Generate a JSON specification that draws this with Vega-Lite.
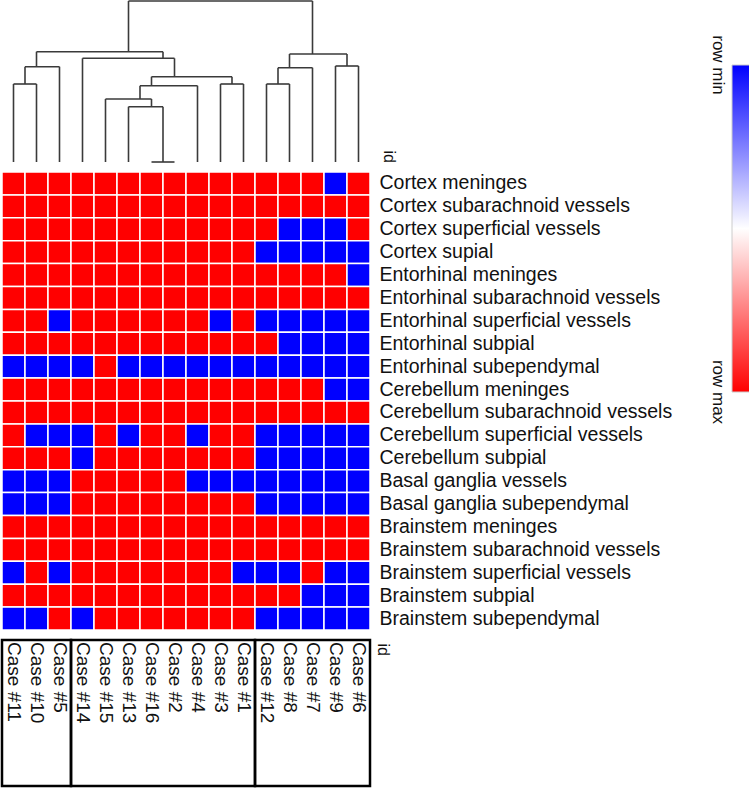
{
  "$schema": "https://vega.github.io/schema/vega-lite/v6.json",
  "padding": 0,
  "spacing": 10,
  "bounds": "flush",
  "config": {"view": {"stroke": null}, "font": "Liberation Sans"},
  "datasets": {
    "dendro": [
      {"x": 5.5, "x2": 13.5, "y": 161, "y2": 161},
      {"x": 5.5, "x2": 5.5, "y": 161, "y2": 110.3},
      {"x": 13.5, "x2": 13.5, "y": 161, "y2": 108},
      {"x": 1.5, "x2": 7.0, "y": 110.3, "y2": 110.3},
      {"x": 1.5, "x2": 1.5, "y": 110.3, "y2": 95.3},
      {"x": 7.0, "x2": 7.0, "y": 110.3, "y2": 103.7},
      {"x": 1.0, "x2": 2.5, "y": 95.3, "y2": 95.3},
      {"x": 1.0, "x2": 1.0, "y": 95.3, "y2": 78},
      {"x": 2.5, "x2": 2.5, "y": 95.3, "y2": 0},
      {"x": 0.5, "x2": 1.5, "y": 78, "y2": 78},
      {"x": 0.5, "x2": 0.5, "y": 78, "y2": 0},
      {"x": 1.5, "x2": 1.5, "y": 78, "y2": 0},
      {"x": 3.5, "x2": 7.5, "y": 103.7, "y2": 103.7},
      {"x": 3.5, "x2": 3.5, "y": 103.7, "y2": 0},
      {"x": 7.5, "x2": 7.5, "y": 103.7, "y2": 85.3},
      {"x": 6.5, "x2": 10.0, "y": 85.3, "y2": 85.3},
      {"x": 6.5, "x2": 6.5, "y": 85.3, "y2": 76.3},
      {"x": 10.0, "x2": 10.0, "y": 85.3, "y2": 78},
      {"x": 9.5, "x2": 10.5, "y": 78, "y2": 78},
      {"x": 9.5, "x2": 9.5, "y": 78, "y2": 0},
      {"x": 10.5, "x2": 10.5, "y": 78, "y2": 0},
      {"x": 6.0, "x2": 8.5, "y": 76.3, "y2": 76.3},
      {"x": 6.0, "x2": 6.0, "y": 76.3, "y2": 63},
      {"x": 8.5, "x2": 8.5, "y": 76.3, "y2": 0},
      {"x": 4.5, "x2": 6.5, "y": 63, "y2": 63},
      {"x": 4.5, "x2": 4.5, "y": 63, "y2": 0},
      {"x": 6.5, "x2": 6.5, "y": 63, "y2": 55.3},
      {"x": 5.5, "x2": 7.0, "y": 55.3, "y2": 55.3},
      {"x": 5.5, "x2": 5.5, "y": 55.3, "y2": 0},
      {"x": 7.0, "x2": 7.0, "y": 55.3, "y2": 0},
      {"x": 6.5, "x2": 7.5, "y": 0, "y2": 0},
      {"x": 12.5, "x2": 15.0, "y": 108, "y2": 108},
      {"x": 12.5, "x2": 12.5, "y": 108, "y2": 94.3},
      {"x": 15.0, "x2": 15.0, "y": 108, "y2": 96},
      {"x": 12.0, "x2": 13.5, "y": 94.3, "y2": 94.3},
      {"x": 12.0, "x2": 12.0, "y": 94.3, "y2": 78},
      {"x": 13.5, "x2": 13.5, "y": 94.3, "y2": 0},
      {"x": 11.5, "x2": 12.5, "y": 78, "y2": 78},
      {"x": 11.5, "x2": 11.5, "y": 78, "y2": 0},
      {"x": 12.5, "x2": 12.5, "y": 78, "y2": 0},
      {"x": 14.5, "x2": 15.5, "y": 96, "y2": 96},
      {"x": 14.5, "x2": 14.5, "y": 96, "y2": 0},
      {"x": 15.5, "x2": 15.5, "y": 96, "y2": 0}
    ],
    "grid": [
      {"site": "Cortex meninges", "Case #11": 1, "Case #10": 1, "Case #5": 1, "Case #14": 1, "Case #15": 1, "Case #13": 1, "Case #16": 1, "Case #2": 1, "Case #4": 1, "Case #3": 1, "Case #1": 1, "Case #12": 1, "Case #8": 1, "Case #7": 1, "Case #9": 0, "Case #6": 1},
      {"site": "Cortex subarachnoid vessels", "Case #11": 1, "Case #10": 1, "Case #5": 1, "Case #14": 1, "Case #15": 1, "Case #13": 1, "Case #16": 1, "Case #2": 1, "Case #4": 1, "Case #3": 1, "Case #1": 1, "Case #12": 1, "Case #8": 1, "Case #7": 1, "Case #9": 1, "Case #6": 1},
      {"site": "Cortex superficial vessels", "Case #11": 1, "Case #10": 1, "Case #5": 1, "Case #14": 1, "Case #15": 1, "Case #13": 1, "Case #16": 1, "Case #2": 1, "Case #4": 1, "Case #3": 1, "Case #1": 1, "Case #12": 1, "Case #8": 0, "Case #7": 0, "Case #9": 0, "Case #6": 1},
      {"site": "Cortex supial", "Case #11": 1, "Case #10": 1, "Case #5": 1, "Case #14": 1, "Case #15": 1, "Case #13": 1, "Case #16": 1, "Case #2": 1, "Case #4": 1, "Case #3": 1, "Case #1": 1, "Case #12": 0, "Case #8": 0, "Case #7": 0, "Case #9": 0, "Case #6": 0},
      {"site": "Entorhinal meninges", "Case #11": 1, "Case #10": 1, "Case #5": 1, "Case #14": 1, "Case #15": 1, "Case #13": 1, "Case #16": 1, "Case #2": 1, "Case #4": 1, "Case #3": 1, "Case #1": 1, "Case #12": 1, "Case #8": 1, "Case #7": 1, "Case #9": 1, "Case #6": 0},
      {"site": "Entorhinal subarachnoid vessels", "Case #11": 1, "Case #10": 1, "Case #5": 1, "Case #14": 1, "Case #15": 1, "Case #13": 1, "Case #16": 1, "Case #2": 1, "Case #4": 1, "Case #3": 1, "Case #1": 1, "Case #12": 1, "Case #8": 1, "Case #7": 1, "Case #9": 1, "Case #6": 1},
      {"site": "Entorhinal superficial vessels", "Case #11": 1, "Case #10": 1, "Case #5": 0, "Case #14": 1, "Case #15": 1, "Case #13": 1, "Case #16": 1, "Case #2": 1, "Case #4": 1, "Case #3": 0, "Case #1": 1, "Case #12": 0, "Case #8": 0, "Case #7": 0, "Case #9": 0, "Case #6": 0},
      {"site": "Entorhinal subpial", "Case #11": 1, "Case #10": 1, "Case #5": 1, "Case #14": 1, "Case #15": 1, "Case #13": 1, "Case #16": 1, "Case #2": 1, "Case #4": 1, "Case #3": 1, "Case #1": 1, "Case #12": 1, "Case #8": 0, "Case #7": 0, "Case #9": 0, "Case #6": 0},
      {"site": "Entorhinal subependymal", "Case #11": 0, "Case #10": 0, "Case #5": 0, "Case #14": 0, "Case #15": 1, "Case #13": 0, "Case #16": 0, "Case #2": 0, "Case #4": 0, "Case #3": 0, "Case #1": 0, "Case #12": 0, "Case #8": 0, "Case #7": 0, "Case #9": 0, "Case #6": 0},
      {"site": "Cerebellum meninges", "Case #11": 1, "Case #10": 1, "Case #5": 1, "Case #14": 1, "Case #15": 1, "Case #13": 1, "Case #16": 1, "Case #2": 1, "Case #4": 1, "Case #3": 1, "Case #1": 1, "Case #12": 1, "Case #8": 1, "Case #7": 1, "Case #9": 0, "Case #6": 0},
      {"site": "Cerebellum subarachnoid vessels", "Case #11": 1, "Case #10": 1, "Case #5": 1, "Case #14": 1, "Case #15": 1, "Case #13": 1, "Case #16": 1, "Case #2": 1, "Case #4": 1, "Case #3": 1, "Case #1": 1, "Case #12": 1, "Case #8": 1, "Case #7": 1, "Case #9": 1, "Case #6": 1},
      {"site": "Cerebellum superficial vessels", "Case #11": 1, "Case #10": 0, "Case #5": 0, "Case #14": 0, "Case #15": 1, "Case #13": 0, "Case #16": 1, "Case #2": 1, "Case #4": 0, "Case #3": 1, "Case #1": 1, "Case #12": 0, "Case #8": 0, "Case #7": 0, "Case #9": 0, "Case #6": 0},
      {"site": "Cerebellum subpial", "Case #11": 1, "Case #10": 1, "Case #5": 1, "Case #14": 0, "Case #15": 1, "Case #13": 1, "Case #16": 1, "Case #2": 1, "Case #4": 1, "Case #3": 1, "Case #1": 1, "Case #12": 0, "Case #8": 0, "Case #7": 0, "Case #9": 0, "Case #6": 0},
      {"site": "Basal ganglia vessels", "Case #11": 0, "Case #10": 0, "Case #5": 0, "Case #14": 1, "Case #15": 1, "Case #13": 1, "Case #16": 1, "Case #2": 1, "Case #4": 0, "Case #3": 0, "Case #1": 0, "Case #12": 0, "Case #8": 0, "Case #7": 0, "Case #9": 0, "Case #6": 0},
      {"site": "Basal ganglia subependymal", "Case #11": 0, "Case #10": 0, "Case #5": 0, "Case #14": 1, "Case #15": 1, "Case #13": 1, "Case #16": 1, "Case #2": 1, "Case #4": 1, "Case #3": 1, "Case #1": 1, "Case #12": 0, "Case #8": 0, "Case #7": 0, "Case #9": 0, "Case #6": 0},
      {"site": "Brainstem meninges", "Case #11": 1, "Case #10": 1, "Case #5": 1, "Case #14": 1, "Case #15": 1, "Case #13": 1, "Case #16": 1, "Case #2": 1, "Case #4": 1, "Case #3": 1, "Case #1": 1, "Case #12": 1, "Case #8": 1, "Case #7": 1, "Case #9": 1, "Case #6": 1},
      {"site": "Brainstem subarachnoid vessels", "Case #11": 1, "Case #10": 1, "Case #5": 1, "Case #14": 1, "Case #15": 1, "Case #13": 1, "Case #16": 1, "Case #2": 1, "Case #4": 1, "Case #3": 1, "Case #1": 1, "Case #12": 1, "Case #8": 1, "Case #7": 1, "Case #9": 1, "Case #6": 1},
      {"site": "Brainstem superficial vessels", "Case #11": 0, "Case #10": 1, "Case #5": 0, "Case #14": 1, "Case #15": 1, "Case #13": 1, "Case #16": 1, "Case #2": 1, "Case #4": 1, "Case #3": 1, "Case #1": 0, "Case #12": 0, "Case #8": 0, "Case #7": 1, "Case #9": 0, "Case #6": 0},
      {"site": "Brainstem subpial", "Case #11": 1, "Case #10": 1, "Case #5": 1, "Case #14": 1, "Case #15": 1, "Case #13": 1, "Case #16": 1, "Case #2": 1, "Case #4": 1, "Case #3": 1, "Case #1": 1, "Case #12": 1, "Case #8": 1, "Case #7": 0, "Case #9": 0, "Case #6": 0},
      {"site": "Brainstem subependymal", "Case #11": 0, "Case #10": 0, "Case #5": 1, "Case #14": 0, "Case #15": 1, "Case #13": 1, "Case #16": 1, "Case #2": 1, "Case #4": 1, "Case #3": 1, "Case #1": 1, "Case #12": 0, "Case #8": 0, "Case #7": 0, "Case #9": 0, "Case #6": 0}
    ],
    "cases": [
      {"case": "Case #11"}, {"case": "Case #10"}, {"case": "Case #5"}, {"case": "Case #14"},
      {"case": "Case #15"}, {"case": "Case #13"}, {"case": "Case #16"}, {"case": "Case #2"},
      {"case": "Case #4"}, {"case": "Case #3"}, {"case": "Case #1"}, {"case": "Case #12"},
      {"case": "Case #8"}, {"case": "Case #7"}, {"case": "Case #9"}, {"case": "Case #6"}
    ],
    "clusters": [
      {"cluster": "A", "start": 0, "end": 3},
      {"cluster": "B", "start": 3, "end": 11},
      {"cluster": "C", "start": 11, "end": 16}
    ]
  },
  "vconcat": [
    {
      "width": 368,
      "height": 162,
      "data": {"name": "dendro"},
      "mark": {"type": "rule", "color": "#3a3a3a", "strokeWidth": 1.6},
      "encoding": {
        "x": {"field": "x", "type": "quantitative", "scale": {"domain": [0, 16], "nice": false, "zero": false}, "axis": null},
        "x2": {"field": "x2"},
        "y": {"field": "y", "type": "quantitative", "scale": {"domain": [0, 162], "nice": false}, "axis": null},
        "y2": {"field": "y2"}
      }
    },
    {
      "width": 368,
      "height": 458,
      "data": {"name": "grid"},
      "transform": [
        {"fold": ["Case #11", "Case #10", "Case #5", "Case #14", "Case #15", "Case #13", "Case #16", "Case #2", "Case #4", "Case #3", "Case #1", "Case #12", "Case #8", "Case #7", "Case #9", "Case #6"], "as": ["case", "v"]}
      ],
      "mark": {"type": "rect", "stroke": "white", "strokeWidth": 1.5},
      "encoding": {
        "x": {
          "field": "case", "type": "nominal",
          "scale": {"domain": ["Case #11", "Case #10", "Case #5", "Case #14", "Case #15", "Case #13", "Case #16", "Case #2", "Case #4", "Case #3", "Case #1", "Case #12", "Case #8", "Case #7", "Case #9", "Case #6"], "paddingInner": 0, "paddingOuter": 0},
          "axis": null
        },
        "y": {
          "field": "site", "type": "nominal",
          "scale": {"domain": ["Cortex meninges", "Cortex subarachnoid vessels", "Cortex superficial vessels", "Cortex supial", "Entorhinal meninges", "Entorhinal subarachnoid vessels", "Entorhinal superficial vessels", "Entorhinal subpial", "Entorhinal subependymal", "Cerebellum meninges", "Cerebellum subarachnoid vessels", "Cerebellum superficial vessels", "Cerebellum subpial", "Basal ganglia vessels", "Basal ganglia subependymal", "Brainstem meninges", "Brainstem subarachnoid vessels", "Brainstem superficial vessels", "Brainstem subpial", "Brainstem subependymal"], "paddingInner": 0, "paddingOuter": 0},
          "axis": {
            "orient": "right", "title": "id", "ticks": false, "domain": false, "tickSize": 0,
            "labelPadding": 9, "labelFontSize": 19.5, "labelColor": "#111111", "labelLimit": 500,
            "titleAngle": 90, "titleX": 18, "titleY": -22, "titleAlign": "left", "titleBaseline": "middle",
            "titleFontWeight": "normal", "titleFontSize": 16, "titleColor": "#111111"
          }
        },
        "color": {
          "field": "v", "type": "quantitative",
          "scale": {"domain": [1, 0.5, 0], "range": ["#ff0000", "#ffffff", "#0000ff"], "interpolate": "rgb"},
          "legend": {
            "orient": "none", "legendX": 730, "legendY": 65, "title": null, "direction": "vertical",
            "gradientLength": 327, "gradientThickness": 20, "gradientStrokeColor": "#cccccc", "gradientStrokeWidth": 1,
            "values": [0, 1], "labelExpr": "datum.value == 0 ? 'row min' : 'row max'",
            "labelOffset": -34, "labelFontSize": 17, "labelColor": "#111111", "labelOverlap": false, "padding": 0,
            "encode": {"labels": {"update": {"angle": {"value": 90}, "align": {"value": "center"}, "baseline": {"value": "middle"}}}}
          }
        }
      }
    },
    {
      "width": 368,
      "height": 149,
      "resolve": {"scale": {"x": "independent"}},
      "layer": [
        {
          "data": {"name": "clusters"},
          "mark": {"type": "rect", "fill": null, "fillOpacity": 0, "stroke": "black", "strokeWidth": 2.5},
          "encoding": {
            "x": {"field": "start", "type": "quantitative", "scale": {"domain": [0, 16], "nice": false, "zero": false}, "axis": null},
            "x2": {"field": "end"},
            "y": {
              "datum": 0, "type": "quantitative", "scale": {"domain": [-0.02, 1], "nice": false, "zero": false},
              "axis": {
                "orient": "right", "labels": false, "ticks": false, "domain": false, "grid": false,
                "title": "id", "titleAngle": 90, "titleX": 12, "titleY": 3, "titleAlign": "left", "titleBaseline": "middle",
                "titleFontWeight": "normal", "titleFontSize": 16, "titleColor": "#111111"
              }
            },
            "y2": {"datum": 1}
          }
        },
        {
          "data": {"name": "cases"},
          "mark": {"type": "text", "angle": 90, "align": "left", "baseline": "middle", "fontSize": 19, "dx": 2, "color": "#111111"},
          "encoding": {
            "x": {
              "field": "case", "type": "nominal",
              "scale": {"domain": ["Case #11", "Case #10", "Case #5", "Case #14", "Case #15", "Case #13", "Case #16", "Case #2", "Case #4", "Case #3", "Case #1", "Case #12", "Case #8", "Case #7", "Case #9", "Case #6"], "paddingInner": 0, "paddingOuter": 0},
              "axis": null
            },
            "y": {"datum": 1, "type": "quantitative"},
            "text": {"field": "case"}
          }
        }
      ]
    }
  ]
}
